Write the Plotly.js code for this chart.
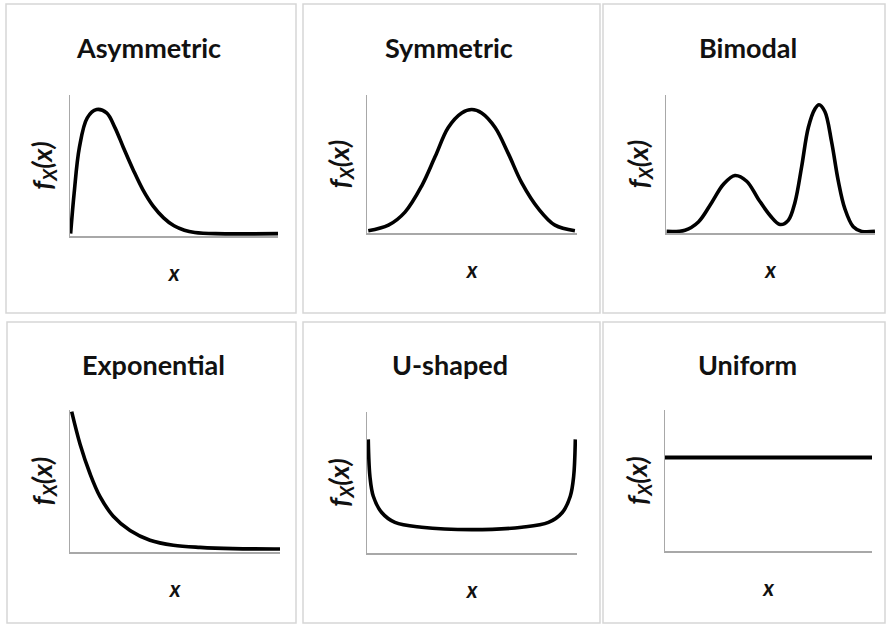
<!DOCTYPE html>
<html><head><meta charset="utf-8">
<script src="https://cdn.plot.ly/plotly-3.0.1.min.js"></script>
<style>html,body{margin:0;padding:0;background:#fff}#chart{width:887px;height:626px}</style>
</head><body><div id="chart"></div>
<script>
// ---- data (arbitrary units 0..10) ----
const panelTitles = ["Asymmetric", "Symmetric", "Bimodal", "Exponential", "U-shaped", "Uniform"];
const xAxisLabel = "x";
const yAxisLabel = "f<sub>X</sub>(x)";

const asymX = [0.03, 0.2, 0.45, 0.83, 1.28, 1.76, 2.16, 2.56, 3.04, 3.5, 4.0, 4.5, 5.0, 5.5, 6.0, 7.0, 10];
const asymY = [0.05, 3.0, 6.3, 8.46, 9.06, 8.82, 7.75, 6.33, 4.68, 3.25, 2.05, 1.2, 0.62, 0.3, 0.14, 0.05, 0.05];

const symX = [0.06, 1.02, 1.81, 2.60, 3.24, 3.87, 4.51, 4.99, 5.46, 6.10, 6.73, 7.37, 8.17, 8.95, 9.9];
const symY = [0.05, 0.46, 1.43, 3.36, 5.53, 7.71, 8.79, 9.04, 8.79, 7.71, 5.77, 3.60, 1.67, 0.46, 0.05];

const bimX = [0.03, 0.91, 1.55, 2.19, 2.74, 3.30, 3.86, 4.42, 4.98, 5.46, 5.85, 6.17, 6.49, 6.81, 7.13, 7.32, 7.60, 7.92, 8.24, 8.56, 8.96, 9.36, 10];
const bimY = [0.0, 0.09, 0.70, 2.15, 3.48, 4.15, 3.72, 2.39, 1.18, 0.51, 0.82, 2.15, 4.80, 7.71, 9.10, 9.40, 8.90, 6.67, 3.77, 1.67, 0.34, 0.0, 0.0];

const expX = [0.08, 0.48, 0.95, 1.43, 2.06, 2.86, 3.81, 4.92, 6.19, 7.76, 10];
const expY = [10.0, 7.65, 5.54, 3.87, 2.46, 1.43, 0.73, 0.37, 0.21, 0.12, 0.1];

const uX = [0.06, 0.14, 0.30, 0.70, 1.33, 2.60, 4.99, 7.37, 8.64, 9.30, 9.68, 9.84, 9.92];
const uY = [8.13, 5.43, 4.00, 2.82, 2.10, 1.75, 1.58, 1.75, 2.10, 2.82, 4.00, 5.43, 8.13];

const unifX = [0, 10];
const unifY = [6.67, 6.67];

const seriesX = [asymX, symX, bimX, expX, uX, unifX];
const seriesY = [asymY, symY, bimY, expY, uY, unifY];

// ---- layout geometry (pixels) ----
const W = 887, H = 626;
// axis boxes: [left, right, top, bottom]
const axesBox = [[70, 278, 95, 236], [367, 577, 95, 233], [666, 875, 95, 233],
                 [70, 280, 410, 552], [367, 577, 412, 553], [665, 872, 410, 551]];
// panel borders: [left, right, top, bottom]
const frames = [[6, 296, 4, 313], [303, 600, 4, 313], [603, 885, 4, 313],
                [7, 296, 322, 623], [303, 600, 322, 623], [603, 885, 322, 623]];
const titlePos = [[148, 47], [449, 47], [748, 47], [153, 364], [450, 364], [747, 364]];

const traces = [];
const layout = {
  width: W, height: H, margin: {l: 0, r: 0, t: 0, b: 0},
  paper_bgcolor: "#fff", plot_bgcolor: "rgba(0,0,0,0)", showlegend: false,
  shapes: [], annotations: []
};
for (let i = 0; i < 6; i++) {
  const n = i === 0 ? "" : String(i + 1);
  const b = axesBox[i];
  traces.push({
    x: seriesX[i], y: seriesY[i], type: "scatter", mode: "lines",
    xaxis: "x" + n, yaxis: "y" + n, hoverinfo: "skip",
    line: {color: "#000", width: i === 5 ? 4.2 : 3.6, shape: i === 5 ? "linear" : "spline", smoothing: 1}
  });
  const common = {showgrid: false, zeroline: false, showticklabels: false, ticks: "",
                  showline: true, linecolor: "#a8a8a8", linewidth: 1.5, fixedrange: true};
  layout["xaxis" + n] = Object.assign({}, common, {
    domain: [b[0] / W, b[1] / W], range: [0, 10], anchor: "y" + n,
    title: {text: xAxisLabel, standoff: 29,
            font: {family: "Lato", size: 22, color: "#111", weight: 700, style: "italic"}}
  });
  layout["yaxis" + n] = Object.assign({}, common, {
    domain: [1 - b[3] / H, 1 - b[2] / H], range: [-0.12, 10.12], anchor: "x" + n,
    title: {text: yAxisLabel, standoff: 8,
            font: {family: "Lato", size: 27, color: "#111", weight: 700, style: "italic"}}
  });
  const f = frames[i];
  layout.shapes.push({type: "rect", xref: "paper", yref: "paper",
    x0: f[0] / W, x1: f[1] / W, y0: 1 - f[3] / H, y1: 1 - f[2] / H,
    line: {color: "#d6d6d6", width: 1.5}, fillcolor: "rgba(0,0,0,0)", layer: "below"});
  layout.annotations.push({text: panelTitles[i], xref: "paper", yref: "paper",
    x: titlePos[i][0] / W, y: 1 - titlePos[i][1] / H, xanchor: "center", yanchor: "middle",
    showarrow: false, font: {family: "Lato", size: 27, color: "#111", weight: 700}});
}
Plotly.newPlot("chart", traces, layout, {displayModeBar: false, staticPlot: true});
</script></body></html>
